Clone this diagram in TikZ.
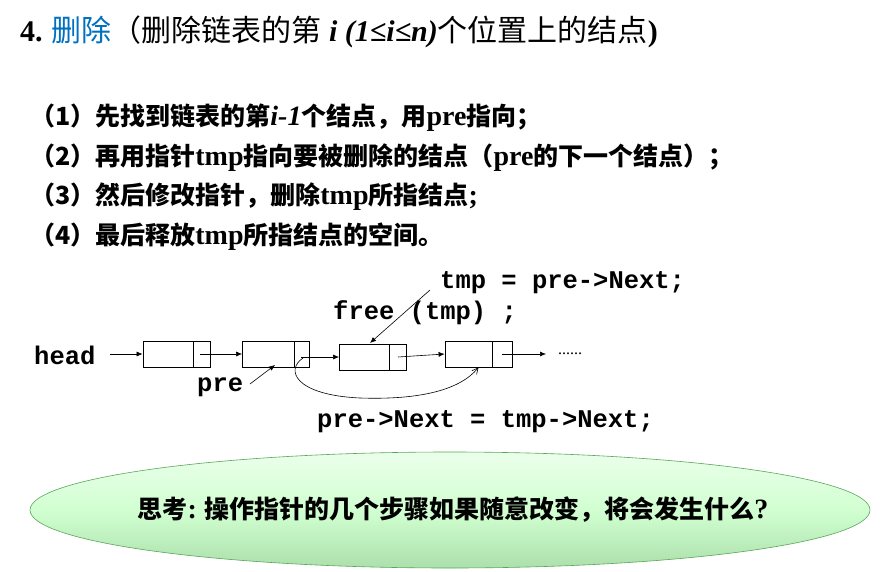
\documentclass[tikz,border=0pt]{standalone}
\usepackage{fontspec}
\setmainfont{Noto Sans CJK SC}
\newfontfamily\tm{Liberation Serif}
\newfontfamily\mono{Liberation Mono}
\usetikzlibrary{arrows.meta}
\definecolor{tblue}{RGB}{0,112,192}
\newcommand\lt[1]{{\tm\fontsize{28}{28}\selectfont #1}}
\tikzset{
 box/.style={draw,line width=0.8pt,minimum width=67pt,minimum height=26pt,inner sep=0},
 arr/.style={-{Latex[length=6pt,width=5pt]},line width=0.6pt},
 code/.style={font=\mono\bfseries\fontsize{25.5}{25.5}\selectfont,anchor=west,inner sep=0},
 line/.style={font=\bfseries\fontsize{25}{25}\selectfont,anchor=west,inner sep=0},
}
\begin{document}
\begin{tikzpicture}[x=1pt,y=-1pt]
\useasboundingbox (0,0) rectangle (887,571);
\node[anchor=west,inner sep=0,font=\fontsize{30}{30}\selectfont] (title) at (20,32)
 {{\tm\bfseries 4.} \textcolor{tblue}{删除}（删除链表的第{\tm\bfseries\itshape\ i (1≤i≤n)}个位置上的结点{\tm\bfseries )}};
\node[line] (l1) at (30,118) {（1）先找到链表的第{\tm\itshape\fontsize{28}{28}\selectfont i-1}个结点，用\lt{pre}指向；};
\node[line] (l2) at (30,158) {（2）再用指针\lt{tmp}指向要被删除的结点（\lt{pre}的下一个结点）；};
\node[line] (l3) at (30,197) {（3）然后修改指针，删除\lt{tmp}所指结点\lt{;}};
\node[line] (l4) at (30,237) {（4）最后释放\lt{tmp}所指结点的空间。};
% list
\node[box] (b1) at (176.5,354) {}; \draw (193,341)--(193,367);
\node[box] (b2) at (276,354) {}; \draw (294,341)--(294,367);
\node[box] (b3) at (373,357) {}; \draw (389,344)--(389,370);
\node[box] (b4) at (478.5,354) {}; \draw (492,341)--(492,367);
\node[code] (head) at (34,355) {head};
\node[code] (pre) at (197,387) {pre};
\node[code] (free) at (333,313) {free (tmp) ;};
\node[code] (tmpeq) at (440,283) {tmp = pre->Next;};
\node[code] (prenext) at (317,422) {pre->Next = tmp->Next;};
\node[anchor=west,inner sep=0,font=\tm\fontsize{16}{16}\selectfont] (dots) at (558,354) {......};
\coordinate (hs) at (110,354);
\coordinate (de) at (546,354);
\coordinate (ps) at (250,384);
\coordinate (pe) at (275,365);
\coordinate (ts) at (430,290);
\coordinate (te) at (370,343);
\draw[arr] (hs) -- (b1.west);
\draw[arr] (200,354) -- (b2.west);
\draw[arr] (301,357) -- (b3.west);
\draw[arr] (398,357) -- (b4.west);
\draw[arr] (502,354) -- (de);
\draw[arr] (ps) -- (pe);
\draw[arr] (ts) -- (te);
\draw[-{Straight Barb[length=6pt,width=6pt]},line width=0.6pt] (303,358) .. controls (285,370) and (295,395) .. (360,398) .. controls (420,400) and (460,390) .. (b4.south);
% ellipse
\shade[top color=green!8, bottom color=green!45!gray!45!white, middle color=green!18, draw=green!30!gray, line width=0.6pt] (450,510) ellipse (420 and 58);
\node[font=\bfseries\fontsize{25}{25}\selectfont] (think) at (453,510) {思考\lt{:} 操作指针的几个步骤如果随意改变，将会发生什么\lt{?}};
\end{tikzpicture}
\end{document}
